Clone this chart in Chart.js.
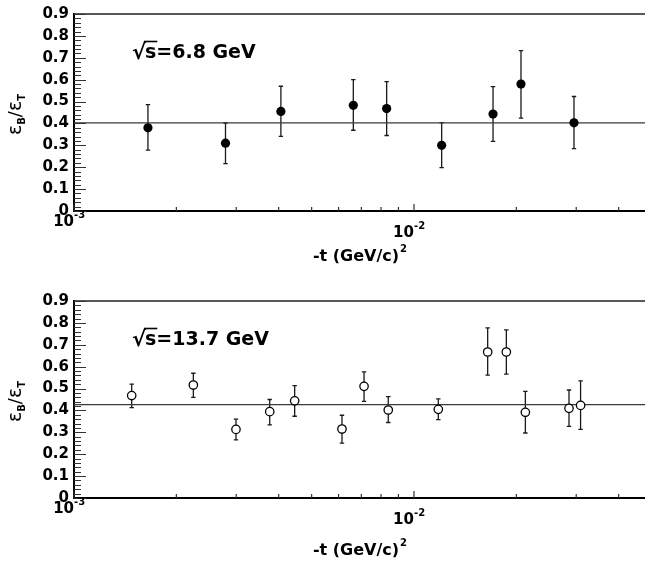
<!DOCTYPE html>
<html>
<head>
<meta charset="utf-8">
<script src="https://cdn.jsdelivr.net/npm/chart.js@4.4.0/dist/chart.umd.min.js"></script>
<style>
  html, body { margin: 0; padding: 0; background: #fff; }
  .panel { position: absolute; left: 0; width: 645px; }
</style>
</head>
<body>
<div class="panel" style="top:0"><canvas id="topChart" width="645" height="287"></canvas></div>
<div class="panel" style="top:287px"><canvas id="bottomChart" width="645" height="284"></canvas></div>
<script>
// Axis ranges and ticks
const xMin = 0.001;
const xMax = 0.0478;
const xMajorTicks = [0.001, 0.01];
const xTickBase = ['10', '10'];
const xTickExp = ['-3', '-2'];
const xMinorTicks = [0.002, 0.003, 0.004, 0.005, 0.006, 0.007, 0.008, 0.009, 0.02, 0.03, 0.04];
const yTickValues = [0, 0.1, 0.2, 0.3, 0.4, 0.5, 0.6, 0.7, 0.8, 0.9];
const yTickLabels = ['0', '0.1', '0.2', '0.3', '0.4', '0.5', '0.6', '0.7', '0.8', '0.9'];

// sqrt(s) = 6.8 GeV
const topX = [0.00165, 0.00279, 0.00406, 0.00663, 0.00831, 0.01206, 0.01708, 0.02064, 0.02955];
const topY = [0.38, 0.31, 0.455, 0.483, 0.468, 0.30, 0.443, 0.58, 0.403];
const topYLow = [0.278, 0.216, 0.341, 0.369, 0.345, 0.198, 0.318, 0.424, 0.285];
const topYHigh = [0.486, 0.402, 0.570, 0.600, 0.591, 0.404, 0.568, 0.733, 0.523];
const topFit = 0.403;

// sqrt(s) = 13.7 GeV
const botX = [0.001478, 0.002244, 0.002995, 0.003764, 0.004457, 0.00614, 0.00713, 0.0084, 0.01179, 0.01647, 0.01869, 0.02126, 0.02857, 0.0309];
const botY = [0.468, 0.516, 0.3135, 0.3945, 0.444, 0.315, 0.51, 0.402, 0.405, 0.667, 0.667, 0.3915, 0.4095, 0.423];
const botYLow = [0.4125, 0.46, 0.2655, 0.334, 0.3735, 0.2505, 0.441, 0.345, 0.3585, 0.561, 0.5655, 0.297, 0.327, 0.3135];
const botYHigh = [0.5205, 0.57, 0.36, 0.45, 0.513, 0.378, 0.576, 0.4635, 0.453, 0.777, 0.768, 0.487, 0.4935, 0.5355];
const botFit = 0.427;

const FONT = 'DejaVu Sans';

// Error bars, drawn under the markers
const errorBars = {
    id: 'errorBars',
    beforeDatasetsDraw(chart, args, opts) {
        const { ctx, scales: { x, y } } = chart;
        ctx.save();
        ctx.strokeStyle = '#1a1a1a';
        ctx.lineWidth = 1.3;
        opts.xs.forEach((xv, i) => {
            const px = x.getPixelForValue(xv);
            const lo = y.getPixelForValue(opts.lows[i]);
            const hi = y.getPixelForValue(opts.highs[i]);
            ctx.beginPath();
            ctx.moveTo(px, lo); ctx.lineTo(px, hi);
            ctx.moveTo(px - 2.2, lo); ctx.lineTo(px + 2.2, lo);
            ctx.moveTo(px - 2.2, hi); ctx.lineTo(px + 2.2, hi);
            ctx.stroke();
        });
        ctx.restore();
    }
};

// Frame, inside ticks, superscript labels and titles
const decorations = {
    id: 'decorations',
    afterDraw(chart, args, opts) {
        const { ctx, chartArea: { left, right, top, bottom }, scales: { x, y } } = chart;
        ctx.save();

        // top frame line
        ctx.strokeStyle = '#222';
        ctx.lineWidth = 1.5;
        ctx.beginPath();
        ctx.moveTo(left, top); ctx.lineTo(right, top);
        ctx.stroke();

        // y ticks on the inside
        ctx.lineWidth = 1;
        ctx.strokeStyle = '#333';
        ctx.beginPath();
        for (let k = 0; k <= 45; k++) {
            const v = k * 0.02;
            const py = Math.round(y.getPixelForValue(v)) + 0.5;
            const len = (k % 5 === 0) ? 12 : 7;
            ctx.moveTo(left, py); ctx.lineTo(left + len, py);
        }
        ctx.stroke();

        // x ticks on the inside
        ctx.lineWidth = 1.2;
        ctx.beginPath();
        xMinorTicks.forEach(v => {
            const px = x.getPixelForValue(v);
            ctx.moveTo(px, bottom); ctx.lineTo(px, bottom - 4);
        });
        xMajorTicks.forEach(v => {
            const px = x.getPixelForValue(v);
            ctx.moveTo(px, bottom); ctx.lineTo(px, bottom - 7);
        });
        ctx.stroke();

        // x tick labels 10^n
        ctx.fillStyle = '#000';
        ctx.textBaseline = 'alphabetic';
        xMajorTicks.forEach((v, i) => {
            const px = x.getPixelForValue(v);
            const base = bottom + opts.xLabelDrop[i];
            ctx.font = `bold 15px "${FONT}"`;
            ctx.textAlign = 'right';
            ctx.fillText(xTickBase[i], px, base);
            ctx.font = `bold 10px "${FONT}"`;
            ctx.textAlign = 'left';
            ctx.fillText(xTickExp[i], px, base - 8);
        });

        // x axis title
        const mainTxt = '-t (GeV/c)';
        ctx.font = `bold 16px "${FONT}"`;
        const w1 = ctx.measureText(mainTxt).width;
        ctx.font = `bold 10px "${FONT}"`;
        const w2 = ctx.measureText('2').width;
        let tx = (left + right) / 2 - (w1 + w2) / 2;
        const ty = bottom + opts.titleDrop;
        ctx.textAlign = 'left';
        ctx.font = `bold 16px "${FONT}"`;
        ctx.fillText(mainTxt, tx, ty);
        ctx.font = `bold 10px "${FONT}"`;
        ctx.fillText('2', tx + w1 + 1, ty - 9);

        // y axis title: eps_B / eps_T, rotated
        const parts = [
            { t: '\u03b5', f: `19px "${FONT}"`, dy: 0 },
            { t: 'B', f: `bold 10px "${FONT}"`, dy: 4 },
            { t: '/', f: `18px "${FONT}"`, dy: 0 },
            { t: '\u03b5', f: `19px "${FONT}"`, dy: 0 },
            { t: 'T', f: `bold 10px "${FONT}"`, dy: 4 }
        ];
        let total = 0;
        parts.forEach(p => { ctx.font = p.f; p.w = ctx.measureText(p.t).width; total += p.w; });
        ctx.save();
        ctx.translate(21, (top + bottom) / 2 + 2);
        ctx.rotate(-Math.PI / 2);
        let cx = -total / 2;
        parts.forEach(p => {
            ctx.font = p.f;
            ctx.fillText(p.t, cx, p.dy);
            cx += p.w;
        });
        ctx.restore();

        // sqrt(s) energy label
        const lx = left + 58;
        const ly = top + 44;
        ctx.font = `bold 21px "${FONT}"`;
        ctx.fillText('\u221a', lx, ly + 1);
        const rw = ctx.measureText('\u221a').width;
        ctx.font = `bold 19px "${FONT}"`;
        const sw = ctx.measureText('s').width;
        ctx.fillText('s', lx + rw - 1, ly);
        ctx.lineWidth = 1.6;
        ctx.strokeStyle = '#000';
        ctx.beginPath();
        ctx.moveTo(lx + rw - 2, ly - 16.5);
        ctx.lineTo(lx + rw + sw, ly - 16.5);
        ctx.stroke();
        ctx.fillText(opts.energy, lx + rw - 1 + sw, ly);

        ctx.restore();
    }
};

function makeChart(canvasId, xs, ys, lows, highs, fit, filled, energy, titleDrop) {
    const canvas = document.getElementById(canvasId);
    const H = canvas.height;
    const points = xs.map((xv, i) => ({ x: xv, y: ys[i] }));
    return new Chart(canvas.getContext('2d'), {
        type: 'scatter',
        data: {
            datasets: [
                {
                    label: 'data',
                    data: points,
                    order: 0,
                    pointRadius: filled ? 4.6 : 4.2,
                    pointBackgroundColor: filled ? '#000' : '#fff',
                    pointBorderColor: '#000',
                    pointBorderWidth: filled ? 0 : 1.3
                },
                {
                    type: 'line',
                    label: 'fit',
                    data: [{ x: xMin, y: fit }, { x: xMax, y: fit }],
                    order: 1,
                    borderColor: '#3a3a3a',
                    borderWidth: 1.2,
                    pointRadius: 0
                }
            ]
        },
        options: {
            responsive: false,
            animation: false,
            devicePixelRatio: 1,
            layout: { autoPadding: false, padding: { left: 0, right: 0, top: 11, bottom: 0 } },
            plugins: {
                legend: { display: false },
                tooltip: { enabled: false },
                errorBars: { xs: xs, lows: lows, highs: highs },
                decorations: { energy: energy, xLabelDrop: [15, 26], titleDrop: titleDrop }
            },
            scales: {
                x: {
                    type: 'logarithmic',
                    min: xMin,
                    max: xMax,
                    afterFit: s => { s.height = H - 211; s.paddingLeft = 0; s.paddingRight = 0; },
                    ticks: { display: false },
                    grid: { drawOnChartArea: false, drawTicks: false },
                    border: { color: '#000', width: 2 }
                },
                y: {
                    min: 0,
                    max: 0.9,
                    afterFit: s => { s.width = 74; },
                    afterBuildTicks: s => { s.ticks = yTickValues.map(v => ({ value: v })); },
                    ticks: {
                        padding: 5,
                        color: '#000',
                        font: { family: FONT, weight: 'bold', size: 15 },
                        callback: (v, i) => yTickLabels[i]
                    },
                    grid: { drawOnChartArea: false, drawTicks: false },
                    border: { color: '#000', width: 2 }
                }
            }
        },
        plugins: [errorBars, decorations]
    });
}

makeChart('topChart', topX, topY, topYLow, topYHigh, topFit, true, '=6.8 GeV', 50);
makeChart('bottomChart', botX, botY, botYLow, botYHigh, botFit, false, '=13.7 GeV', 57);
</script>
</body>
</html>
